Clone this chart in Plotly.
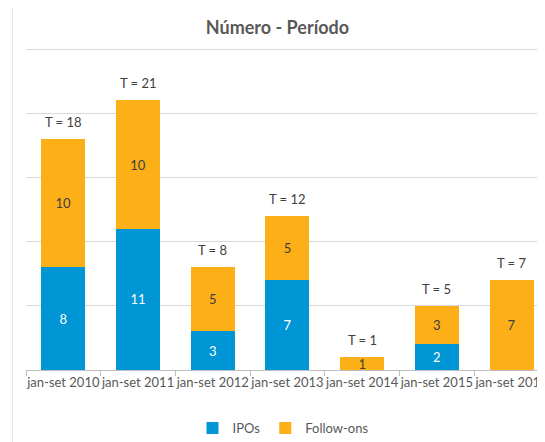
import plotly.graph_objects as go

categories = ["jan-set 2010", "jan-set 2011", "jan-set 2012", "jan-set 2013",
              "jan-set 2014", "jan-set 2015", "jan-set 2016"]
ipos = [8, 11, 3, 7, 0, 2, 0]
follow_ons = [10, 10, 5, 5, 1, 3, 7]
totals = [a + b for a, b in zip(ipos, follow_ons)]

BLUE = "#0096D6"
ORANGE = "#FCAF17"
FONT = "Lato"

# page body has an 8px margin: figure coords = page coords - 8
OFF = 8
W = 545 - OFF
H = 442 - OFF
L = 26 - OFF
TOP = 48 - OFF
BOT = 370 - OFF
plot_w = W - L
plot_h = BOT - TOP
cat_w = 74.7
right = -0.5 + plot_w / cat_w
y_top = 25.08

fig = go.Figure()
fig.add_trace(go.Bar(
    x=categories, y=ipos, name="IPOs", marker_color=BLUE,
    text=[str(v) if v else "" for v in ipos], textposition="inside",
    insidetextanchor="middle", textangle=0, constraintext="none",
    textfont=dict(color="white", size=13, family=FONT),
    marker_line_width=0,
))
fig.add_trace(go.Bar(
    x=categories, y=follow_ons, name="Follow-ons", marker_color=ORANGE,
    text=[str(v) if v else "" for v in follow_ons], textposition="inside",
    insidetextanchor="middle", textangle=0, constraintext="none",
    textfont=dict(color="#404040", size=13, family=FONT),
    marker_line_width=0,
))

for c, t in zip(categories, totals):
    fig.add_annotation(x=c, y=t, text=f"T = {t}", showarrow=False,
                       yanchor="middle", yshift=17,
                       font=dict(color="#404040", size=13, family=FONT))

fig.update_layout(
    width=W, height=H,
    barmode="stack", bargap=0.41,
    margin=dict(l=L, r=0, t=TOP, b=H - BOT, autoexpand=False),
    paper_bgcolor="white", plot_bgcolor="white",
    title=dict(text="<b>Número - Período</b>", x=(277.5 - OFF) / W, xref="container",
               xanchor="center", y=1 - (28 - OFF) / H, yanchor="middle",
               font=dict(size=18, color="#595959", family=FONT)),
    legend=dict(orientation="h", x=(283 - 26) / plot_w, xanchor="center",
                y=-(428 - 370) / plot_h, yanchor="middle",
                font=dict(size=13, color="#595959", family=FONT),
                itemwidth=30, traceorder="normal"),
    showlegend=True,
)
fig.update_xaxes(
    range=[-0.5, right], autorange=False, automargin=False,
    showline=True, linecolor="#BFBFBF", linewidth=1,
    ticks="outside", tickson="boundaries", ticklen=5, tickcolor="#BFBFBF",
    tickfont=dict(size=13, color="#595959", family=FONT),
    showgrid=False, tickangle=0,
)
fig.update_yaxes(
    range=[0, y_top], autorange=False, tick0=0, dtick=5, showticklabels=False,
    showgrid=True, gridcolor="#D9D9D9", gridwidth=1, zeroline=False,
    automargin=False,
)
# outer chart border (light gray)
fig.add_shape(type="rect", xref="paper", yref="paper",
              x0=(12.5 - 26) / plot_w, x1=1.2, y0=-0.5, y1=1 + (48 - 5) / plot_h,
              line=dict(color="#E6E6E6", width=1), fillcolor="rgba(0,0,0,0)",
              layer="below")

fig.write_html("out.html")
